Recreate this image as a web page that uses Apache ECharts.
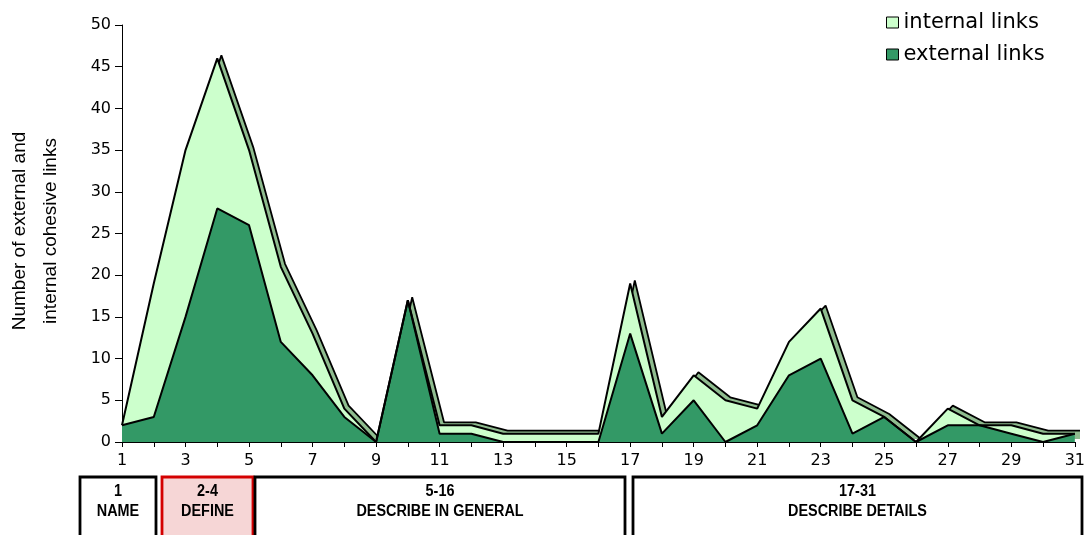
<!DOCTYPE html>
<html>
<head>
<meta charset="utf-8">
<script src="https://cdn.jsdelivr.net/npm/echarts@6/dist/echarts.min.js"></script>
<style>html,body{margin:0;padding:0;background:#fff}#c{width:1088px;height:535px}</style>
</head>
<body>
<div id="c"></div>
<script>
// ---- data ----
var categories = ['1','2','3','4','5','6','7','8','9','10','11','12','13','14','15','16','17','18','19','20','21','22','23','24','25','26','27','28','29','30','31'];
var externalLinks = [2,3,15,28,26,12,8,3,0,17,1,1,0,0,0,0,13,1,5,0,2,8,10,1,3,0,2,2,1,0,1];
var internalLinks = [0,16,20,18,9,9,5,1,0,0,1,1,1,1,1,1,6,2,3,5,2,4,6,4,0,0,2,0,1,1,0];
var yTicks = {min: 0, max: 50, interval: 5};
var sections = [
  {range: '1', label: 'NAME'},
  {range: '2-4', label: 'DEFINE'},
  {range: '5-16', label: 'DESCRIBE IN GENERAL'},
  {range: '17-31', label: 'DESCRIBE DETAILS'}
];
var seriesNames = ['internal links', 'external links'];
var yTitle = 'Number of external and\ninternal cohesive links';

var totals = externalLinks.map(function (v, i) { return v + internalLinks[i]; });

var DARK = '#339966', LIGHT = '#ccffcc', BAND = '#8fbc8f';
var FONT = 'DejaVu Sans';

// section box geometry (layout only)
var boxGeom = [
  {x: 80, w: 76, red: false},
  {x: 162, w: 91, red: true},
  {x: 255, w: 370, red: false},
  {x: 633, w: 449, red: false}
];

var graphics = [];
boxGeom.forEach(function (b, i) {
  graphics.push({
    type: 'rect', z: 10,
    shape: {x: b.x, y: 477, width: b.w, height: 80},
    style: {fill: b.red ? '#f6d6d6' : '#fff', stroke: b.red ? '#d40000' : '#000', lineWidth: 2.8}
  });
  graphics.push({
    type: 'text', z: 11, x: b.x + b.w / 2, y: 492, scaleX: 0.9,
    style: {text: sections[i].range, fill: '#000', font: 'bold 16px "Liberation Sans"', textAlign: 'center', textVerticalAlign: 'middle'}
  });
  graphics.push({
    type: 'text', z: 11, x: b.x + b.w / 2, y: 512, scaleX: 0.9,
    style: {text: sections[i].label, fill: '#000', font: 'bold 16px "Liberation Sans"', textAlign: 'center', textVerticalAlign: 'middle'}
  });
});
graphics.push({
  type: 'text', z: 11, x: 35, y: 231, rotation: Math.PI / 2,
  style: {text: yTitle, fill: '#000', font: '19px "Liberation Sans"', textAlign: 'center', textVerticalAlign: 'middle', lineHeight: 31}
});

var chart = echarts.init(document.getElementById('c'), null, {renderer: 'canvas'});
chart.setOption({
  animation: false,
  backgroundColor: '#fff',
  grid: [
    {left: 122, right: 12, top: 25, bottom: 93},
    {left: 126, right: 8, top: 22, bottom: 96}
  ],
  legend: {
    orient: 'vertical', left: 881, top: 7,
    data: seriesNames,
    icon: 'rect', itemWidth: 12, itemHeight: 11, itemGap: 11,
    itemStyle: {borderColor: '#000', borderWidth: 1},
    textStyle: {fontFamily: FONT, fontSize: 21, color: '#000'}
  },
  xAxis: [
    {
      type: 'category', gridIndex: 0, data: categories, boundaryGap: false,
      axisLine: {lineStyle: {color: '#000', width: 1}},
      axisTick: {interval: 0, length: 5, lineStyle: {color: '#000'}},
      axisLabel: {interval: 1, margin: 11, color: '#000', fontFamily: FONT, fontSize: 16},
      splitLine: {show: false}
    },
    {
      type: 'category', gridIndex: 1, data: categories, boundaryGap: false, show: false
    }
  ],
  yAxis: [
    {
      type: 'value', gridIndex: 0, min: yTicks.min, max: yTicks.max, interval: yTicks.interval,
      axisLine: {show: true, lineStyle: {color: '#000', width: 1}},
      axisTick: {show: true, length: 7, lineStyle: {color: '#000'}},
      axisLabel: {margin: 11, color: '#000', fontFamily: FONT, fontSize: 16},
      splitLine: {show: false}
    },
    {
      type: 'value', gridIndex: 1, min: yTicks.min, max: yTicks.max, interval: yTicks.interval, show: false
    }
  ],
  series: [
    {
      name: 'depth', type: 'line', xAxisIndex: 1, yAxisIndex: 1, z: 1,
      data: totals, showSymbol: false, symbol: 'none', silent: true,
      lineStyle: {color: '#000', width: 1.8},
      areaStyle: {color: BAND, opacity: 1}
    },
    {
      name: seriesNames[1], type: 'line', stack: 'links', xAxisIndex: 0, yAxisIndex: 0, z: 3,
      data: externalLinks, showSymbol: false, symbol: 'none',
      itemStyle: {color: DARK},
      lineStyle: {color: '#000', width: 2},
      areaStyle: {color: DARK, opacity: 1}
    },
    {
      name: seriesNames[0], type: 'line', stack: 'links', xAxisIndex: 0, yAxisIndex: 0, z: 3,
      data: internalLinks, showSymbol: false, symbol: 'none',
      itemStyle: {color: LIGHT},
      lineStyle: {color: '#000', width: 2},
      areaStyle: {color: LIGHT, opacity: 1}
    }
  ],
  graphic: graphics
});
</script>
</body>
</html>
